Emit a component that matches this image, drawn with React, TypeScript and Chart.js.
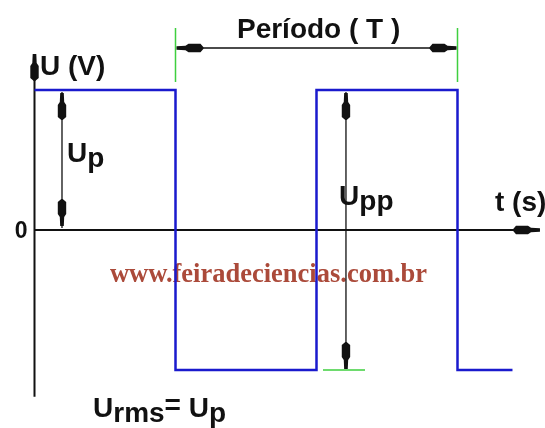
import React, { useEffect, useRef } from "react";
import { Chart, registerables } from "chart.js";

Chart.register(...registerables);

// ---- data (time in units, voltage in units of Up) ----
const waveTime = [0, 1, 1, 2, 2, 3, 3, 3.39];
const waveVoltage = [1, 1, -1, -1, 1, 1, -1, -1];
const timeView = [-0.2447, 3.6206];
const voltageView = [-1.414, 1.643];
const timeAxisEnd = 3.585;
const voltageAxisRange = [-1.19, 1.257];
const periodMarks = [1, 3];
const periodLevel = 1.3;
const periodTickRange = [1.057, 1.443];
const peakArrowTime = 0.195;
const peakToPeakArrowTime = 2.209;
const lowMarkRange = [2.046, 2.344];

type Part = { text: string; dy?: number };
type Label = { t: number; u: number; parts: Part[]; align?: "left" | "right"; font?: string; color?: string };

const SANS = "bold 28px 'Liberation Sans', Arial, Helvetica, sans-serif";
const labels: Label[] = [
  { t: 0.039, u: 1.107, parts: [{ text: "U (V)" }] },
  { t: 1.436, u: 1.371, parts: [{ text: "Período ( T )" }] },
  { t: 0.23, u: 0.486, parts: [{ text: "U" }, { text: "p", dy: 5 }] },
  { t: 2.16, u: 0.179, parts: [{ text: "U" }, { text: "pp", dy: 5 }] },
  { t: 3.266, u: 0.136, parts: [{ text: "t (s)" }] },
  { t: -0.05, u: -0.057, parts: [{ text: "0" }], align: "right", font: "bold 23px 'Liberation Sans', Arial, sans-serif" },
  {
    t: 0.415,
    u: -1.336,
    parts: [{ text: "U" }, { text: "rms", dy: 5 }, { text: "=", dy: -3 }, { text: " U" }, { text: "p", dy: 5 }],
  },
];
const watermark: Label = {
  t: 0.535,
  u: -0.371,
  parts: [{ text: "www.feiradeciencias.com.br" }],
  font: "bold 26.5px 'Liberation Serif', 'Times New Roman', serif",
  color: "#ab4a3a",
};

const BLUE = "#1a1acd";
const GREEN = "#3fcf3f";
const BLACK = "#111111";

function drawHead(ctx: CanvasRenderingContext2D, tx: number, ty: number, dx: number, dy: number) {
  const px = -dy;
  const py = dx;
  const shape: [number, number][] = [
    [0, -1.8], [9, -2.2], [12, -4.2], [24, -4.2], [27, -0.7],
    [27, 0.7], [24, 4.2], [12, 4.2], [9, 2.2], [0, 1.8],
  ];
  ctx.beginPath();
  shape.forEach(([a, b], i) => {
    const x = tx - dx * a + px * b;
    const y = ty - dy * a + py * b;
    if (i === 0) ctx.moveTo(x, y);
    else ctx.lineTo(x, y);
  });
  ctx.closePath();
  ctx.fillStyle = BLACK;
  ctx.fill();
}

function drawLabel(ctx: CanvasRenderingContext2D, chart: any, l: Label) {
  const xs = chart.scales.x;
  const ys = chart.scales.y;
  let x = xs.getPixelForValue(l.t);
  const y = ys.getPixelForValue(l.u);
  ctx.font = l.font || SANS;
  ctx.fillStyle = l.color || BLACK;
  ctx.textBaseline = "alphabetic";
  ctx.textAlign = "left";
  if (l.align === "right") {
    const w = l.parts.reduce((s, p) => s + ctx.measureText(p.text).width, 0);
    x -= w;
  }
  for (const p of l.parts) {
    ctx.fillText(p.text, x, y + (p.dy || 0));
    x += ctx.measureText(p.text).width;
  }
}

const diagramPlugin = {
  id: "diagram",
  beforeDatasetsDraw(chart: any) {
    const ctx: CanvasRenderingContext2D = chart.ctx;
    const xs = chart.scales.x;
    const ys = chart.scales.y;
    const X = (v: number) => xs.getPixelForValue(v);
    const Y = (v: number) => ys.getPixelForValue(v);
    ctx.save();
    drawLabel(ctx, chart, watermark);
    // axes
    ctx.strokeStyle = BLACK;
    ctx.lineWidth = 2;
    ctx.beginPath();
    ctx.moveTo(X(0), Y(voltageAxisRange[0]));
    ctx.lineTo(X(0), Y(voltageAxisRange[1]) + 4);
    ctx.moveTo(X(0), Y(0));
    ctx.lineTo(X(timeAxisEnd) - 4, Y(0));
    ctx.stroke();
    drawHead(ctx, X(0), Y(voltageAxisRange[1]), 0, -1);
    drawHead(ctx, X(timeAxisEnd), Y(0), 1, 0);
    ctx.restore();
  },
  afterDatasetsDraw(chart: any) {
    const ctx: CanvasRenderingContext2D = chart.ctx;
    const xs = chart.scales.x;
    const ys = chart.scales.y;
    const X = (v: number) => xs.getPixelForValue(v);
    const Y = (v: number) => ys.getPixelForValue(v);
    ctx.save();
    // green markers
    ctx.strokeStyle = GREEN;
    ctx.lineWidth = 1.5;
    ctx.beginPath();
    for (const m of periodMarks) {
      ctx.moveTo(X(m), Y(periodTickRange[0]));
      ctx.lineTo(X(m), Y(periodTickRange[1]));
    }
    ctx.moveTo(X(lowMarkRange[0]), Y(-1));
    ctx.lineTo(X(lowMarkRange[1]), Y(-1));
    ctx.stroke();
    // dimension lines
    ctx.strokeStyle = BLACK;
    ctx.lineWidth = 1.3;
    ctx.beginPath();
    ctx.moveTo(X(periodMarks[0]) + 2, Y(periodLevel));
    ctx.lineTo(X(periodMarks[1]) - 2, Y(periodLevel));
    ctx.moveTo(X(peakArrowTime), Y(1) + 2);
    ctx.lineTo(X(peakArrowTime), Y(0) - 2);
    ctx.moveTo(X(peakToPeakArrowTime), Y(1) + 2);
    ctx.lineTo(X(peakToPeakArrowTime), Y(-1) - 2);
    ctx.stroke();
    drawHead(ctx, X(periodMarks[0]) + 1, Y(periodLevel), -1, 0);
    drawHead(ctx, X(periodMarks[1]) - 1, Y(periodLevel), 1, 0);
    drawHead(ctx, X(peakArrowTime), Y(1) + 3, 0, -1);
    drawHead(ctx, X(peakArrowTime), Y(0) - 4, 0, 1);
    drawHead(ctx, X(peakToPeakArrowTime), Y(1) + 3, 0, -1);
    drawHead(ctx, X(peakToPeakArrowTime), Y(-1) - 1, 0, 1);
    for (const l of labels) drawLabel(ctx, chart, l);
    ctx.restore();
  },
};

export default function App() {
  const ref = useRef<HTMLCanvasElement>(null);
  useEffect(() => {
    if (!ref.current) return;
    const chart = new Chart(ref.current, {
      type: "line",
      data: {
        datasets: [
          {
            data: waveTime.map((t, i) => ({ x: t, y: waveVoltage[i] })),
            borderColor: BLUE,
            borderWidth: 2.5,
            pointRadius: 0,
            fill: false,
            tension: 0,
            clip: false as any,
          },
        ],
      },
      options: {
        responsive: false,
        maintainAspectRatio: false,
        animation: false,
        layout: { padding: 0 },
        plugins: { legend: { display: false }, tooltip: { enabled: false } },
        events: [],
        scales: {
          x: { type: "linear", min: timeView[0], max: timeView[1], display: false },
          y: { type: "linear", min: voltageView[0], max: voltageView[1], display: false },
        },
      },
      plugins: [diagramPlugin],
    });
    return () => chart.destroy();
  }, []);
  return (
    <div style={{ position: "fixed", left: 0, top: 0, width: 545, height: 428, background: "#fff" }}>
      <canvas ref={ref} width={545} height={428} style={{ width: 545, height: 428, display: "block" }} />
    </div>
  );
}
